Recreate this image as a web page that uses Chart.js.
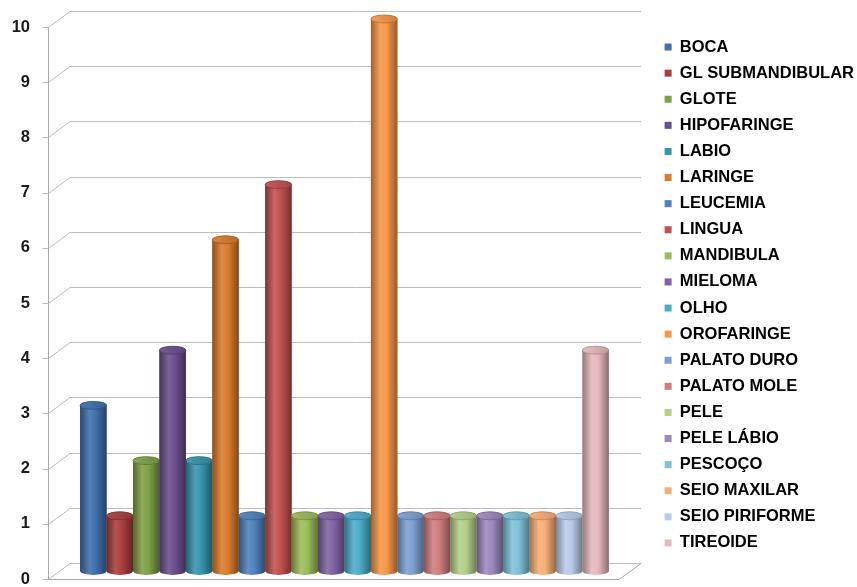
<!DOCTYPE html>
<html>
<head>
<meta charset="utf-8">
<script src="https://cdn.jsdelivr.net/npm/chart.js@4.4.1/dist/chart.umd.min.js"></script>
<style>
  html, body { margin: 0; padding: 0; background: #fff; }
  #wrap { width: 857px; height: 587px; }
</style>
</head>
<body>
<div id="wrap"><canvas id="chart"></canvas></div>
<script>
const categories = [
  'BOCA', 'GL SUBMANDIBULAR', 'GLOTE', 'HIPOFARINGE', 'LABIO', 'LARINGE',
  'LEUCEMIA', 'LINGUA', 'MANDIBULA', 'MIELOMA', 'OLHO', 'OROFARINGE',
  'PALATO DURO', 'PALATO MOLE', 'PELE', 'PELE LÁBIO', 'PESCOÇO',
  'SEIO MAXILAR', 'SEIO PIRIFORME', 'TIREOIDE'
];
const counts = [3, 1, 2, 4, 2, 6, 1, 7, 1, 1, 1, 10, 1, 1, 1, 1, 1, 1, 1, 4];
const yMin = 0, yMax = 10, yStep = 1;

const palette = [
  '#3F6FAE', '#A83E3B', '#7FA046', '#6A4F8C', '#3694AB', '#D97B2B',
  '#4F81BD', '#C0504D', '#9BBB59', '#8064A2', '#4BACC6', '#F79646',
  '#7E9FD2', '#D07E7C', '#B4CF8A', '#9B88BE', '#7DC2D6', '#F9AE74',
  '#B9CBE8', '#E5B9BC'
];

// depth of the 3d box (front plane vs back wall)
const DX = 11, DY = 8;

function tint(hex, amt) {
  const n = parseInt(hex.slice(1), 16);
  let r = n >> 16, g = (n >> 8) & 255, b = n & 255;
  const t = amt > 0 ? 255 : 0, p = Math.abs(amt);
  r = Math.round(r + (t - r) * p);
  g = Math.round(g + (t - g) * p);
  b = Math.round(b + (t - b) * p);
  return 'rgb(' + r + ',' + g + ',' + b + ')';
}

const box3d = {
  id: 'box3d',
  beforeDatasetsDraw(chart) {
    const { ctx, chartArea: a, scales: { y } } = chart;
    const fl = a.left - DX + 0.5, bl = a.left + DX, br = a.right + DX, fr = a.right - DX;
    ctx.save();
    ctx.lineWidth = 1;
    ctx.strokeStyle = '#bcbcbc';
    y.ticks.forEach(t => {
      const py = Math.round(y.getPixelForValue(t.value)) + 0.5;
      ctx.beginPath();
      ctx.moveTo(fl - 6, py + DY);
      ctx.lineTo(fl, py + DY);
      ctx.lineTo(bl, py - DY);
      ctx.lineTo(br, py - DY);
      ctx.stroke();
    });
    const top = Math.round(y.getPixelForValue(yMax)) + 0.5;
    const p0 = Math.round(y.getPixelForValue(yMin)) + 0.5;
    ctx.strokeStyle = '#a8a8a8';
    ctx.beginPath();
    ctx.moveTo(fl, top + DY);
    ctx.lineTo(fl, p0 + DY);
    ctx.lineTo(fr, p0 + DY);
    ctx.lineTo(br, p0 - DY);
    ctx.stroke();
    ctx.restore();
  },
  afterDatasetsDraw(chart) {
    const ctx = chart.ctx;
    chart.data.datasets.forEach((ds, i) => {
      const bar = chart.getDatasetMeta(i).data[0];
      const { x, y, base, width } = bar.getProps(['x', 'y', 'base', 'width'], true);
      const rx = width / 2, ry = width * 0.15;
      const l = x - rx, r = x + rx;
      const c = ds.backgroundColor;
      const g = ctx.createLinearGradient(l, 0, r, 0);
      g.addColorStop(0, tint(c, -0.35));
      g.addColorStop(0.35, tint(c, 0.12));
      g.addColorStop(0.6, c);
      g.addColorStop(1, tint(c, -0.4));
      ctx.save();
      ctx.beginPath();
      ctx.moveTo(l, y);
      ctx.lineTo(l, base);
      ctx.ellipse(x, base, rx, ry, 0, Math.PI, 0, true);
      ctx.lineTo(r, y);
      ctx.ellipse(x, y, rx, ry, 0, 0, Math.PI, true);
      ctx.closePath();
      ctx.fillStyle = g;
      ctx.fill();
      // top cap
      ctx.beginPath();
      ctx.ellipse(x, y, rx, ry, 0, 0, Math.PI * 2);
      const gc = ctx.createLinearGradient(l, y - ry, r, y + ry);
      gc.addColorStop(0, tint(c, 0.08));
      gc.addColorStop(1, tint(c, -0.15));
      ctx.fillStyle = gc;
      ctx.fill();
      ctx.strokeStyle = tint(c, -0.25);
      ctx.lineWidth = 0.8;
      ctx.stroke();
      ctx.restore();
    });
  }
};

// keep the legend away from the plot like in the original
const legendSpot = {
  id: 'legendSpot',
  beforeLayout(chart) {
    const lg = chart.legend;
    if (lg && !lg._patched) {
      const fit = lg.fit;
      lg.fit = function () { fit.call(this); this.width = 227; };
      lg._patched = true;
    }
  },
  afterLayout(chart) {
    chart.legend.left += 25;
    chart.legend.right += 25;
  }
};

new Chart(document.getElementById('chart'), {
  type: 'bar',
  data: {
    labels: [''],
    datasets: categories.map((name, i) => ({
      label: name,
      data: [counts[i]],
      backgroundColor: palette[i],
      borderWidth: 0
    }))
  },
  options: {
    responsive: true,
    maintainAspectRatio: false,
    animation: false,
    categoryPercentage: 0.926,
    barPercentage: 1,
    layout: { padding: { top: 19, bottom: 16, left: 0, right: 0 } },
    scales: {
      x: { display: false },
      y: {
        min: yMin,
        max: yMax,
        grid: { display: false, drawTicks: false },
        border: { display: false },
        ticks: {
          stepSize: yStep,
          padding: 29,
          labelOffset: 8,
          color: '#1a1a1a',
          font: { family: 'Liberation Sans', size: 16.5, weight: 'bold' }
        },
        afterFit: s => {
          s.width = 59;
          s.paddingTop = 0;
          s.paddingBottom = 0;
        }
      }
    },
    plugins: {
      legend: {
        position: 'right',
        labels: {
          boxWidth: 7,
          boxHeight: 7,
          padding: 9.6,
          color: '#000',
          font: { family: 'Liberation Sans', size: 16.5, weight: 'bold' }
        }
      },
      tooltip: { enabled: false }
    }
  },
  plugins: [box3d, legendSpot]
});
</script>
</body>
</html>
